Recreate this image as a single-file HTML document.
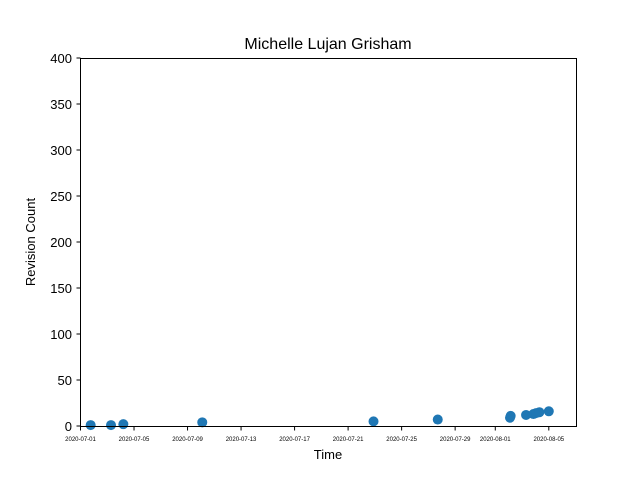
<!DOCTYPE html>
<html><head><meta charset="utf-8">
<style>
body{margin:0;background:#fff;font-family:"Liberation Sans","DejaVu Sans",sans-serif;}
svg{display:block}
</style></head>
<body>
<svg id="chart" width="640" height="480">
  <rect x="0" y="0" width="640" height="480" fill="#fff"/>
  <text x="328" y="49" font-size="16" text-anchor="middle">Michelle Lujan Grisham</text>
  <g id="yticks"></g>
  <g id="xticks"></g>
  <g id="points"></g>
  <rect x="80.5" y="58.5" width="496" height="368" fill="none" stroke="#000" stroke-width="1"/>
  <text x="328" y="459" font-size="13" text-anchor="middle">Time</text>
  <text transform="translate(35,242) rotate(-90)" font-size="13" text-anchor="middle">Revision Count</text>
</svg>
<script>
const dayOffsets = [0.76, 2.28, 3.2, 9.1, 21.9, 26.7, 32.1, 32.15, 33.3, 33.85, 34.05, 34.3, 35.0];
const revisionCounts = [1, 1, 2, 4, 5, 7, 9, 11, 12, 13, 14, 15, 16];
const xTickDays = [0, 4, 8, 12, 16, 20, 24, 28, 31, 35];
const xTickLabels = ["2020-07-01","2020-07-05","2020-07-09","2020-07-13","2020-07-17","2020-07-21","2020-07-25","2020-07-29","2020-08-01","2020-08-05"];
const yTicks = [0, 50, 100, 150, 200, 250, 300, 350, 400];

const NS = "http://www.w3.org/2000/svg";
const xScale = d => 80.5 + d * 13.38;
const yScale = v => 426 - v * 0.92;

const yg = document.getElementById("yticks");
yTicks.forEach(t => {
  const y = yScale(t);
  const l = document.createElementNS(NS, "line");
  l.setAttribute("x1", 76.5); l.setAttribute("x2", 80.5);
  l.setAttribute("y1", y); l.setAttribute("y2", y);
  l.setAttribute("stroke", "#000");
  
  
  yg.appendChild(l);
  const tx = document.createElementNS(NS, "text");
  tx.setAttribute("x", 72); tx.setAttribute("y", y + 5);
  tx.setAttribute("font-size", "13"); tx.setAttribute("text-anchor", "end");
  tx.textContent = t;
  
  
  yg.appendChild(tx);
});

const xg = document.getElementById("xticks");
xTickDays.forEach((d, i) => {
  const x = xScale(d);
  const l = document.createElementNS(NS, "line");
  l.setAttribute("x1", x); l.setAttribute("x2", x);
  l.setAttribute("y1", 426.5); l.setAttribute("y2", 430.5);
  l.setAttribute("stroke", "#000");
  
  
  xg.appendChild(l);
  const tx = document.createElementNS(NS, "text");
  tx.setAttribute("x", x); tx.setAttribute("y", 441);
  tx.setAttribute("font-size", "6"); tx.setAttribute("text-anchor", "middle");
  tx.textContent = xTickLabels[i];
  
  
  xg.appendChild(tx);
});

const pg = document.getElementById("points");
dayOffsets.forEach((d, i) => {
  const c = document.createElementNS(NS, "circle");
  c.setAttribute("cx", xScale(d));
  c.setAttribute("cy", yScale(revisionCounts[i]));
  c.setAttribute("r", 5);
  c.setAttribute("fill", "#1f77b4");
  
  
  pg.appendChild(c);
});
</script>
</body></html>
